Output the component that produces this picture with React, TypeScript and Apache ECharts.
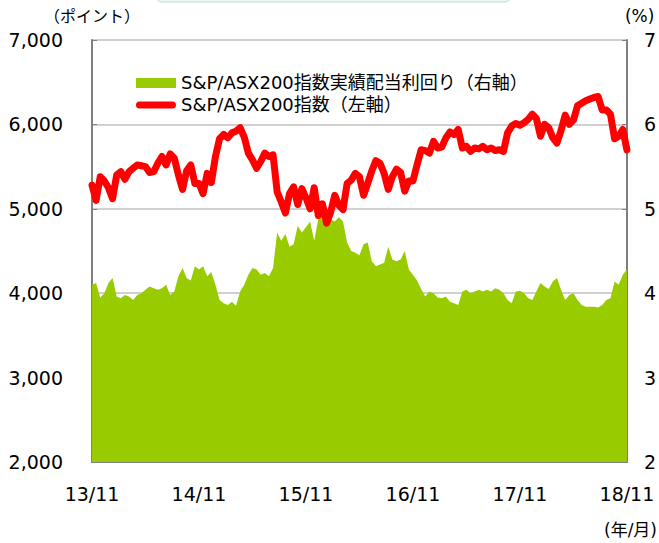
import React, { useEffect, useRef } from "react";
import * as echarts from "echarts";

const X_TICK_LABELS = ["13/11", "14/11", "15/11", "16/11", "17/11", "18/11"];
const STEPS_PER_YEAR = 26;

// S&P/ASX200 index (left axis), roughly every 2 weeks, Nov 2013 – Nov 2018
const INDEX_VALUES = [
  5280, 5100, 5380, 5330, 5250, 5120, 5400, 5440, 5350, 5440, 5480, 5520, 5510, 5500, 5430, 5440, 5540, 5620, 5520, 5650, 5600, 5400, 5230, 5450, 5520, 5300,
  5300, 5180, 5420, 5310, 5620, 5830, 5880, 5840, 5900, 5920, 5960, 5850, 5660, 5580, 5480, 5560, 5660, 5620, 5640, 5200, 5080, 4950, 5180, 5260, 5050, 5240,
  5130, 5000, 5250, 4920, 5060, 4830, 4960, 5160, 5040, 4990, 5300, 5340, 5420, 5380, 5160, 5300, 5450, 5570, 5540, 5420, 5230, 5380, 5470, 5430, 5210, 5330,
  5330, 5520, 5700, 5690, 5660, 5800, 5720, 5730, 5840, 5910, 5880, 5940, 5720, 5740, 5680, 5720, 5710, 5740, 5700, 5720, 5690, 5700, 5680, 5900, 5980, 6010,
  5990, 6020, 6060, 6120, 6070, 5860, 6000, 5960, 5840, 5780, 5930, 6110, 6000, 6050, 6220, 6250, 6280, 6300, 6320, 6330, 6170, 6170, 6120, 5830, 5860, 5940,
  5700,
];

// S&P/ASX200 trailing dividend yield in % (right axis)
const YIELD_VALUES = [
  4.10, 4.12, 3.95, 4.00, 4.12, 4.18, 3.96, 3.94, 3.98, 3.96, 3.92, 3.98, 4.00, 4.04, 4.08, 4.06, 4.04, 4.06, 4.10, 3.98, 4.02, 4.20, 4.30, 4.18, 4.15, 4.32,
  4.28, 4.32, 4.20, 4.25, 4.10, 3.92, 3.88, 3.86, 3.90, 3.85, 4.02, 4.10, 4.22, 4.30, 4.28, 4.22, 4.24, 4.20, 4.30, 4.72, 4.62, 4.70, 4.55, 4.58, 4.80, 4.72,
  4.78, 4.85, 4.62, 4.88, 4.95, 5.02, 4.88, 4.85, 4.90, 4.85, 4.60, 4.50, 4.48, 4.45, 4.58, 4.60, 4.38, 4.32, 4.34, 4.36, 4.55, 4.40, 4.38, 4.40, 4.50, 4.28,
  4.22, 4.15, 4.05, 3.96, 4.02, 4.00, 3.95, 3.94, 3.96, 3.90, 3.88, 3.86, 4.02, 4.04, 4.00, 4.02, 4.04, 4.02, 4.04, 4.02, 4.06, 4.04, 4.00, 3.92, 3.88, 4.02,
  4.03, 4.00, 3.94, 3.92, 4.02, 4.12, 4.08, 4.05, 4.14, 4.18, 4.04, 3.92, 3.98, 4.00, 3.92, 3.86, 3.84, 3.84, 3.84, 3.83, 3.86, 3.92, 3.94, 4.14, 4.10, 4.22,
  4.28,
];

const SERIES_YIELD = "S&P/ASX200指数実績配当利回り（右軸）";
const SERIES_INDEX = "S&P/ASX200指数（左軸）";

const FONT = "'DejaVu Sans', 'Noto Sans CJK JP', sans-serif";
const LINE_ICON = "path://M4,0 L36,0 A3.5,3.5 0 0 1 36,7 L4,7 A3.5,3.5 0 0 1 4,0 Z";

export default function App() {
  const ref = useRef<HTMLDivElement>(null);
  useEffect(() => {
    if (!ref.current) return;
    const chart = echarts.init(ref.current, undefined, { renderer: "svg" });
    const categories = INDEX_VALUES.map((_, i) => String(i));
    chart.setOption({
      animation: false,
      backgroundColor: "#ffffff",
      textStyle: { fontFamily: FONT },
      grid: { left: 92, right: 32, top: 40, bottom: 81, containLabel: false },
      legend: {
        left: 131,
        top: 69,
        orient: "vertical",
        itemWidth: 40,
        itemHeight: 10,
        itemGap: 4,
        textStyle: { fontFamily: FONT, fontSize: 18, color: "#000" },
        data: [
          { name: SERIES_YIELD, icon: "rect" },
          { name: SERIES_INDEX, icon: LINE_ICON, itemStyle: { color: "#ff0000" } },
        ],
      },
      xAxis: {
        type: "category",
        data: categories,
        boundaryGap: false,
        axisLine: { lineStyle: { color: "#808080", width: 2 } },
        axisTick: { inside: true, length: 7, interval: STEPS_PER_YEAR - 1, lineStyle: { color: "#808080", width: 1 } },
        axisLabel: {
          interval: STEPS_PER_YEAR - 1,
          margin: 22,
          fontSize: 19,
          fontFamily: FONT,
          color: "#000",
          formatter: (_v: string, idx: number) => X_TICK_LABELS[Math.round(idx / STEPS_PER_YEAR)] ?? "",
        },
        splitLine: { show: false },
      },
      yAxis: [
        {
          type: "value",
          min: 2000,
          max: 7000,
          interval: 1000,
          name: "（ポイント）",
          nameLocation: "end",
          nameGap: 16,
          nameTextStyle: { fontFamily: FONT, fontSize: 16, color: "#000", align: "center" },
          axisLine: { show: true, lineStyle: { color: "#808080", width: 2 } },
          axisTick: { show: true, inside: true, length: 5, lineStyle: { color: "#808080" } },
          axisLabel: {
            margin: 29,
            fontSize: 19,
            fontFamily: FONT,
            color: "#000",
            formatter: (v: number) => v.toLocaleString("en-US"),
          },
          splitLine: { show: true, lineStyle: { color: "#c0c0c0", width: 1.5 } },
        },
        {
          type: "value",
          min: 2,
          max: 7,
          interval: 1,
          name: "(%)",
          nameLocation: "end",
          nameGap: 16,
          nameTextStyle: { fontFamily: FONT, fontSize: 17, color: "#000", align: "left", padding: [0, 0, 0, -2] },
          axisLine: { show: true, lineStyle: { color: "#808080", width: 2 } },
          axisTick: { show: true, inside: true, length: 5, lineStyle: { color: "#808080" } },
          axisLabel: { margin: 17, fontSize: 19, fontFamily: FONT, color: "#000" },
          splitLine: { show: false },
        },
      ],
      series: [
        {
          name: SERIES_YIELD,
          type: "line",
          yAxisIndex: 1,
          data: YIELD_VALUES,
          symbol: "none",
          showSymbol: false,
          lineStyle: { width: 0, color: "#99cc00" },
          itemStyle: { color: "#99cc00" },
          areaStyle: { color: "#99cc00", opacity: 1, origin: "start" },
          z: 1,
        },
        {
          name: SERIES_INDEX,
          type: "line",
          yAxisIndex: 0,
          data: INDEX_VALUES,
          symbol: "none",
          showSymbol: false,
          lineStyle: { width: 7, color: "#ff0000", cap: "round", join: "round" },
          itemStyle: { color: "#ff0000" },
          z: 3,
        },
      ],
      graphic: [
        {
          type: "rect",
          shape: { x: 157, y: -8, width: 353, height: 10, r: 5 },
          style: { fill: "#eef8f3", stroke: "#cfe8dd", lineWidth: 1.5 },
        },
        {
          type: "text",
          right: 2,
          top: 521,
          style: { text: "(年/月)", fontFamily: FONT, fontSize: 17, fill: "#000" },
        },
      ],
    });
    return () => chart.dispose();
  }, []);
  return (
    <div
      ref={ref}
      style={{ position: "fixed", left: 0, top: 0, width: 659, height: 543 }}
    />
  );
}
